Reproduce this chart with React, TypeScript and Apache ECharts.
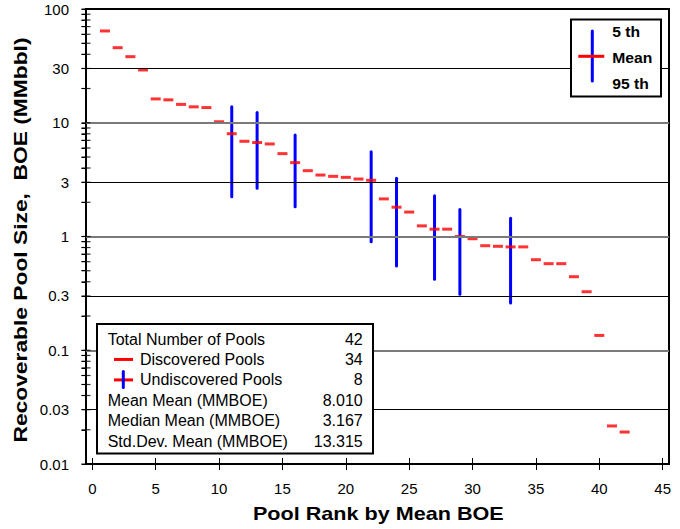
import React, { useEffect, useRef } from "react";
import * as echarts from "echarts";

// Pool ranks 1..42 and the mean recoverable size (MMBOE) of each
const ranks: number[] = Array.from({ length: 42 }, (_, i) => i + 1);
const meanValues: number[] = [
  64.1, 45.7, 38.1, 29.1, 16.2, 15.9, 14.5, 13.8, 13.6, 10.2,
  8.01, 6.87, 6.7, 6.51, 5.35, 4.46, 3.79, 3.47, 3.38, 3.31,
  3.2, 3.12, 2.14, 1.81, 1.64, 1.24, 1.16, 1.16, 1.0, 0.956,
  0.83, 0.82, 0.81, 0.81, 0.625, 0.577, 0.577, 0.443, 0.327, 0.135,
  0.0216, 0.0191,
];
// Undiscovered pools: rank, 5th (high) and 95th (low) fractiles
const undiscoveredRanks: number[] = [11, 13, 16, 22, 24, 27, 29, 33];
const fractile5: number[] = [13.8, 12.3, 7.8, 5.57, 3.25, 2.28, 1.73, 1.45];
const fractile95: number[] = [2.24, 2.65, 1.83, 0.9, 0.55, 0.42, 0.31, 0.26];

const xMin = -0.5;
const xMax = 45.5;
const xTickValues: number[] = [0, 5, 10, 15, 20, 25, 30, 35, 40, 45];
const yTickLabels: number[] = [0.01, 0.03, 0.1, 0.3, 1, 3, 10, 30, 100];
const majorGridValues: number[] = [10, 1, 0.1];
const minorGridValues: number[] = [30, 3, 0.3, 0.03];

const statLabels: string[] = [
  "Total Number of Pools",
  "Discovered Pools",
  "Undiscovered Pools",
  "Mean Mean (MMBOE)",
  "Median Mean (MMBOE)",
  "Std.Dev. Mean (MMBOE)",
];
const statValues: string[] = ["42", "34", "8", "8.010", "3.167", "13.315"];

const legendLabels: string[] = ["5 th", "Mean", "95 th"];

const FONT = "'Liberation Sans', Arial, sans-serif";

export default function App() {
  const ref = useRef<HTMLDivElement>(null);
  useEffect(() => {
    if (!ref.current) return;
    const chart = echarts.init(ref.current, undefined, { renderer: "svg" });

    const minorTicks: number[] = [];
    [0.01, 0.1, 1, 10].forEach((d) => {
      for (let k = 1; k <= 9; k++) minorTicks.push(parseFloat((k * d).toPrecision(6)));
    });
    minorTicks.push(100);

    const meanData = ranks.map((r, i) => [r, meanValues[i]]);
    const rangeData = undiscoveredRanks.map((r, i) => [r, fractile95[i], fractile5[i]]);
    const yTickData = minorTicks.map((v) => [xMin, v]);

    const statRowY = (i: number) => 339 + i * 20.45;
    const graphics: any[] = [];
    // stats box
    graphics.push({
      type: "rect",
      z: 100,
      shape: { x: 97, y: 324, width: 276, height: 129.5 },
      style: { fill: "#fff", stroke: "#000", lineWidth: 2 },
    });
    statLabels.forEach((lab, i) => {
      const indent = i === 1 || i === 2 ? 140 : 107.7;
      graphics.push({
        type: "text",
        z: 101,
        x: indent,
        y: statRowY(i),
        style: { text: lab, fontSize: 16, fontFamily: FONT, fill: "#000", textAlign: "left", textVerticalAlign: "middle" },
      });
      graphics.push({
        type: "text",
        z: 101,
        x: 362.7,
        y: statRowY(i),
        style: { text: statValues[i], fontSize: 16, fontFamily: FONT, fill: "#000", textAlign: "right", textVerticalAlign: "middle" },
      });
    });
    graphics.push({
      type: "line", z: 102,
      shape: { x1: 114, y1: statRowY(1), x2: 133, y2: statRowY(1) },
      style: { stroke: "#ff0000", lineWidth: 3 },
    });
    graphics.push({
      type: "line", z: 102,
      shape: { x1: 114, y1: statRowY(2), x2: 133, y2: statRowY(2) },
      style: { stroke: "#ff0000", lineWidth: 3 },
    });
    graphics.push({
      type: "line", z: 103,
      shape: { x1: 123.3, y1: statRowY(2) - 8.5, x2: 123.3, y2: statRowY(2) + 7.5 },
      style: { stroke: "#0000ff", lineWidth: 3, lineCap: "round" },
    });
    // top-right legend
    graphics.push({
      type: "rect", z: 100,
      shape: { x: 571, y: 19.5, width: 90, height: 77 },
      style: { fill: "#fff", stroke: "#000", lineWidth: 2 },
    });
    graphics.push({
      type: "line", z: 101,
      shape: { x1: 592.3, y1: 31, x2: 592.3, y2: 81 },
      style: { stroke: "#0000ff", lineWidth: 3, lineCap: "round" },
    });
    graphics.push({
      type: "line", z: 102,
      shape: { x1: 578.3, y1: 56.3, x2: 604.3, y2: 56.3 },
      style: { stroke: "#ff0000", lineWidth: 3 },
    });
    const legendY = [32.3, 58.3, 84];
    legendLabels.forEach((lab, i) => {
      graphics.push({
        type: "text", z: 101,
        x: 612.3, y: legendY[i], scaleX: 1.12,
        style: { text: lab, fontSize: 14, fontWeight: "bold", fontFamily: FONT, fill: "#000", textAlign: "left", textVerticalAlign: "middle" },
      });
    });
    // axis titles
    graphics.push({
      type: "text", z: 101,
      x: 378.3, y: 514, scaleX: 1.2,
      style: { text: "Pool Rank by Mean BOE", fontSize: 18, fontWeight: "bold", fontFamily: FONT, fill: "#000", textAlign: "center", textVerticalAlign: "middle" },
    });
    graphics.push({
      type: "text", z: 101,
      x: 20, y: 240, rotation: Math.PI / 2, scaleX: 1.2,
      style: { text: "Recoverable Pool Size,  BOE (MMbbl)", fontSize: 19, fontWeight: "bold", fontFamily: FONT, fill: "#000", textAlign: "center", textVerticalAlign: "middle" },
    });

    const gridLineData = [
      ...majorGridValues.map((v) => ({ yAxis: v, lineStyle: { color: "#7a7a7a", width: 2, type: "solid" } })),
      ...minorGridValues.map((v) => ({ yAxis: v, lineStyle: { color: "#000", width: 1, type: "solid" } })),
    ];

    chart.setOption({
      animation: false,
      backgroundColor: "#fff",
      grid: {
        left: 86, right: 11, top: 9, bottom: 65,
        show: true, borderColor: "#000", borderWidth: 2,
      },
      xAxis: {
        type: "value",
        min: xMin, max: xMax,
        offset: -6,
        axisLine: { show: false, onZero: false },
        axisTick: { show: true, length: 12, inside: false, customValues: xTickValues, lineStyle: { color: "#000", width: 1 } },
        axisLabel: { customValues: xTickValues, margin: 23, fontSize: 15, color: "#000", fontFamily: FONT },
        splitLine: { show: false },
      },
      yAxis: {
        type: "log",
        logBase: 10,
        min: 0.01, max: 100,
        axisLine: { show: true, onZero: false, lineStyle: { color: "#000", width: 2 } },
        axisTick: { show: true, length: 4.5, inside: false, customValues: minorTicks, lineStyle: { color: "#000", width: 1 } },
        axisLabel: {
          customValues: yTickLabels,
          margin: 17,
          fontSize: 15,
          color: "#000",
          fontFamily: FONT,
          formatter: (v: number) => String(v),
        },
        splitLine: { show: false },
        minorTick: { show: false },
      },
      graphic: { elements: graphics },
      series: [
        {
          type: "custom",
          z: 3,
          data: rangeData,
          encode: { x: 0, y: [1, 2] },
          renderItem: (_params: any, api: any) => {
            const p1 = api.coord([api.value(0), api.value(1)]);
            const p2 = api.coord([api.value(0), api.value(2)]);
            return {
              type: "line",
              shape: { x1: p1[0], y1: p1[1], x2: p2[0], y2: p2[1] },
              style: { stroke: "#0000ff", lineWidth: 3, lineCap: "round" },
            };
          },
          markLine: {
            silent: true,
            symbol: "none",
            label: { show: false },
            data: gridLineData,
          },
        },
        {
          type: "scatter",
          z: 4,
          data: meanData,
          symbol: "rect",
          symbolSize: [10, 3],
          itemStyle: { color: "#ff0000" },
        },
        {
          // tick marks crossing the left axis
          type: "scatter",
          z: 6,
          clip: false,
          data: yTickData,
          symbol: "rect",
          symbolSize: [9, 1.2],
          itemStyle: { color: "#000" },
        },
      ],
    });

    return () => chart.dispose();
  }, []);
  return <div ref={ref} style={{ position: "fixed", left: 0, top: 0, width: 680, height: 529 }} />;
}
